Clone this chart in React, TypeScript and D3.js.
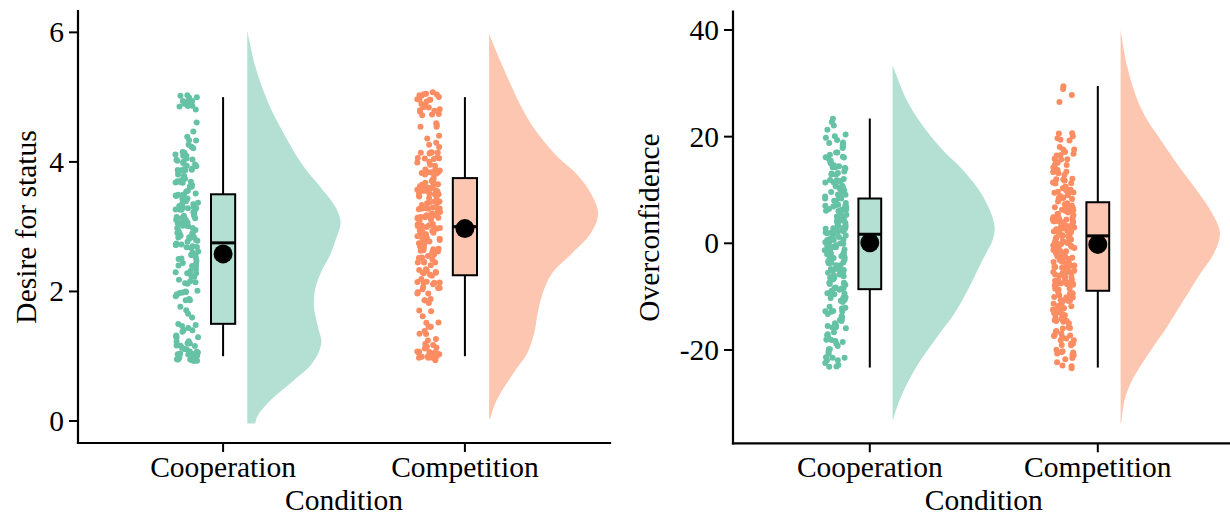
import React from "react";
import * as d3 from "d3";

const conditions = ["Cooperation", "Competition"];
const pointColors = ["#66C2A5", "#FC8D62"];
const fillColors = ["#B3E0D3", "#FDC6B0"];

// desire for status, raw responses as [value, count]
const statusCoop = [
  [1.0, 22], [1.17, 10], [1.33, 7], [1.5, 4], [1.67, 3], [1.83, 4], [2.0, 8], [2.17, 8],
  [2.33, 8], [2.5, 9], [2.67, 10], [2.83, 12], [3.0, 13], [3.17, 13], [3.33, 12], [3.5, 11],
  [3.67, 10], [3.83, 9], [4.0, 9], [4.17, 7], [4.33, 4], [4.5, 1], [4.67, 1], [4.83, 5], [5.0, 8],
];
const statusComp = [
  [1.0, 20], [1.17, 6], [1.33, 4], [1.5, 5], [1.67, 3], [1.83, 4], [2.0, 7], [2.17, 8],
  [2.33, 9], [2.5, 10], [2.67, 12], [2.83, 13], [3.0, 15], [3.17, 16], [3.33, 15], [3.5, 14],
  [3.67, 12], [3.83, 11], [4.0, 9], [4.17, 6], [4.33, 4], [4.5, 3], [4.67, 4], [4.83, 8], [5.0, 12],
];

// overconfidence, raw responses as [value, count]
const overCoop = [
  [-23, 3], [-22, 3], [-21, 4], [-20, 3], [-19, 3], [-18, 4], [-17, 3], [-16, 4], [-15, 4],
  [-14, 4], [-13, 5], [-12, 4], [-11, 5], [-10, 5], [-9, 5], [-8, 6], [-7, 5], [-6, 6],
  [-5, 6], [-4, 6], [-3, 6], [-2, 7], [-1, 6], [0, 7], [1, 7], [2, 7], [3, 7], [4, 7],
  [5, 6], [6, 7], [7, 6], [8, 6], [9, 6], [10, 6], [11, 5], [12, 5], [13, 5], [14, 5],
  [15, 4], [16, 4], [17, 3], [18, 3], [19, 3], [20, 3], [21, 1], [22, 1], [23, 2],
];
const overComp = [
  [-23, 3], [-22, 3], [-21, 3], [-20, 4], [-19, 4], [-18, 4], [-17, 5], [-16, 4], [-15, 5],
  [-14, 5], [-13, 5], [-12, 6], [-11, 6], [-10, 6], [-9, 7], [-8, 7], [-7, 7], [-6, 8],
  [-5, 7], [-4, 8], [-3, 8], [-2, 8], [-1, 8], [0, 9], [1, 9], [2, 9], [3, 8], [4, 8],
  [5, 8], [6, 7], [7, 7], [8, 6], [9, 6], [10, 6], [11, 5], [12, 5], [13, 5], [14, 4],
  [15, 4], [16, 4], [17, 3], [18, 3], [19, 2], [20, 2], [21, 2], [26.7, 1], [28.3, 1],
  [29.1, 1], [29.5, 1],
];

// box stats: [lower whisker, q1, median, q3, upper whisker, mean]
const statusBoxes = [
  [1.0, 1.5, 2.75, 3.5, 5.0, 2.58],
  [1.0, 2.25, 3.0, 3.75, 5.0, 2.97],
];
const overBoxes = [
  [-23.3, -8.6, 1.7, 8.4, 23.4, 0.1],
  [-23.3, -8.9, 1.4, 7.7, 29.5, -0.2],
];

// half-violin densities: [value, density]
const statusDensCoop = [
  [6.03, 0], [5.46, 0.083], [4.95, 0.2], [4.43, 0.367], [3.92, 0.567], [3.61, 0.733],
  [3.3, 0.883], [3.07, 0.933], [2.79, 0.883], [2.58, 0.833], [2.28, 0.733], [2.02, 0.677],
  [1.76, 0.667], [1.45, 0.707], [1.2, 0.74], [0.89, 0.65], [0.63, 0.467], [0.32, 0.233],
  [0.07, 0.1], [-0.04, 0.08],
];
const statusDensComp = [
  [5.975, 0], [5.46, 0.14], [4.95, 0.29], [4.54, 0.44], [4.12, 0.66], [3.82, 0.87],
  [3.51, 1.02], [3.2, 1.09], [2.89, 1.013], [2.58, 0.823], [2.28, 0.63], [1.97, 0.535],
  [1.66, 0.485], [1.35, 0.45], [1.04, 0.38], [0.74, 0.245], [0.32, 0.075], [0.04, 0.013],
];
const overDensCoop = [
  [33.4, 0], [26.9, 0.14], [23.7, 0.24], [20.6, 0.36], [17.5, 0.5], [14.4, 0.67],
  [10.6, 0.84], [6.9, 0.956], [3.1, 1.02], [0.6, 1.0], [-3.1, 0.9], [-8.1, 0.77],
  [-13.1, 0.62], [-16.9, 0.47], [-23.1, 0.24], [-29.4, 0.07], [-33.45, 0],
];
const overDensComp = [
  [40.0, 0], [33.1, 0.067], [26.9, 0.167], [23.1, 0.267], [19.4, 0.4], [14.4, 0.583],
  [9.4, 0.783], [5.6, 0.917], [1.9, 0.993], [-1.9, 0.933], [-5.6, 0.8], [-10.6, 0.633],
  [-15.6, 0.467], [-20.6, 0.283], [-25.6, 0.117], [-29.4, 0.04], [-33.75, 0.007],
];

const statusTicks = [0, 2, 4, 6];
const statusTickLabels = ["0", "2", "4", "6"];
const overTicks = [-20, 0, 20, 40];
const overTickLabels = ["-20", "0", "20", "40"];

const FONT = "'Liberation Serif', 'Times New Roman', serif";
const FS = 29.5;

function expand(pairs) {
  const out = [];
  pairs.forEach(([v, c]) => {
    for (let k = 0; k < c; k++) out.push(v);
  });
  return out;
}

// deterministic jitter offset in [-0.5, 0.5)
function jit(i, seed) {
  const s = Math.sin(i * 127.1 + seed * 311.7) * 43758.5453;
  return s - Math.floor(s) - 0.5;
}

function Panel({ xRange, yRange, yDomain, ticks, tickLabels, title, titleX, points, boxes, dens, jitterH, seed }) {
  const x = d3.scalePoint().domain(conditions).range(xRange).padding(0.6);
  const y = d3.scaleLinear().domain(yDomain).range(yRange);
  const step = x.step();
  const w = d3.scaleLinear().domain([0, 1]).range([0, 100]);
  const axisX = xRange[0];
  const axisY = yRange[0];

  return (
    <g>
      {conditions.map((c, ci) => {
        const cx = x(c);
        const x0 = cx + 0.1 * step;
        const area = d3
          .area()
          .x0(() => x0)
          .x1((d) => x0 + Math.max(0, w(d[1])))
          .y((d) => y(d[0]))
          .curve(d3.curveCatmullRom);
        const vals = expand(points[ci]);
        const b = boxes[ci];
        const bw = 0.1 * step;
        return (
          <g key={c}>
            <path d={area(dens[ci])} fill={fillColors[ci]} />
            {vals.map((v, i) => (
              <circle
                key={i}
                cx={cx - 0.15 * step + jit(i, seed + ci) * 0.095 * step}
                cy={y(v + jit(i, seed + ci + 7.3) * jitterH)}
                r={3}
                fill={pointColors[ci]}
              />
            ))}
            <line x1={cx} x2={cx} y1={y(b[0])} y2={y(b[1])} stroke="#000" strokeWidth={2} />
            <line x1={cx} x2={cx} y1={y(b[3])} y2={y(b[4])} stroke="#000" strokeWidth={2} />
            <rect
              x={cx - bw / 2}
              y={y(b[3])}
              width={bw}
              height={y(b[1]) - y(b[3])}
              fill={fillColors[ci]}
              stroke="#000"
              strokeWidth={2}
            />
            <circle cx={cx} cy={y(b[5])} r={9.5} fill="#000" />
            <line x1={cx - bw / 2} x2={cx + bw / 2} y1={y(b[2])} y2={y(b[2])} stroke="#000" strokeWidth={3} />
          </g>
        );
      })}

      <line x1={axisX} x2={axisX} y1={yRange[1]} y2={axisY} stroke="#000" strokeWidth={2.2} strokeLinecap="square" />
      <line x1={axisX} x2={xRange[1]} y1={axisY} y2={axisY} stroke="#000" strokeWidth={2.2} strokeLinecap="square" />

      {ticks.map((t, i) => (
        <g key={t}>
          <line x1={axisX - 9} x2={axisX} y1={y(t)} y2={y(t)} stroke="#000" strokeWidth={2} />
          <text x={axisX - 14} y={y(t)} dy="0.34em" textAnchor="end" fontFamily={FONT} fontSize={FS} fill="#000">
            {tickLabels[i]}
          </text>
        </g>
      ))}
      {conditions.map((c) => (
        <g key={c}>
          <line x1={x(c)} x2={x(c)} y1={axisY} y2={axisY + 9} stroke="#000" strokeWidth={2} />
          <text x={x(c)} y={476.5} textAnchor="middle" fontFamily={FONT} fontSize={FS} fill="#000">
            {c}
          </text>
        </g>
      ))}
      <text x={(xRange[0] + xRange[1]) / 2} y={509.5} textAnchor="middle" fontFamily={FONT} fontSize={FS} fill="#000">
        Condition
      </text>
      <text
        transform={`translate(${titleX},${(yRange[0] + yRange[1]) / 2}) rotate(-90)`}
        textAnchor="middle"
        fontFamily={FONT}
        fontSize={FS}
        fill="#000"
      >
        {title}
      </text>
    </g>
  );
}

export default function App() {
  return (
    <svg
      width={1230}
      height={514}
      style={{ position: "absolute", left: 0, top: 0, background: "#fff", display: "block" }}
    >
      <rect width={1230} height={514} fill="#fff" />
      <Panel
        xRange={[78, 610]}
        yRange={[443, 11]}
        yDomain={[-0.34, 6.33]}
        ticks={statusTicks}
        tickLabels={statusTickLabels}
        title="Desire for status"
        titleX={36}
        points={[statusCoop, statusComp]}
        boxes={statusBoxes}
        dens={[statusDensCoop, statusDensComp]}
        jitterH={0.15}
        seed={1}
      />
      <Panel
        xRange={[733, 1234.6]}
        yRange={[443.3, 11.7]}
        yDomain={[-37.5, 43.43]}
        ticks={overTicks}
        tickLabels={overTickLabels}
        title="Overconfidence"
        titleX={659}
        points={[overCoop, overComp]}
        boxes={overBoxes}
        dens={[overDensCoop, overDensComp]}
        jitterH={1.0}
        seed={5}
      />
    </svg>
  );
}
